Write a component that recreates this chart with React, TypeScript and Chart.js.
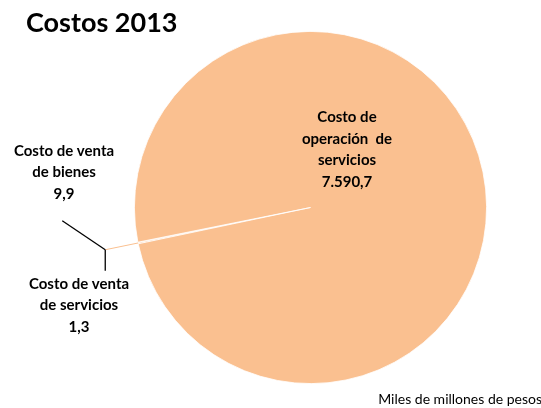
import React, { useEffect, useRef } from "react";
import { Chart, registerables } from "chart.js";

Chart.register(...registerables);

const chartTitle = "Costos 2013";
const categories = [
  "Costo de venta de bienes",
  "Costo de venta de servicios",
  "Costo de operación de servicios",
];
const values = [9.9, 1.3, 7590.7];
const labelLines = [
  ["Costo de venta", "de bienes"],
  ["Costo de venta", "de servicios"],
  ["Costo de", "operación  de", "servicios"],
];
const unitNote = "Miles de millones de pesos";

const sliceColor = "#FAC090";
const FONT = "Lato, 'Open Sans', sans-serif";

function fmt(v: number): string {
  const [i, d] = v.toFixed(1).split(".");
  return i.replace(/\B(?=(\d{3})+(?!\d))/g, ".") + "," + d;
}

// label block anchors (centre x, first baseline y)
const labelAnchors = [
  { x: 64, y: 155.5 },
  { x: 79, y: 288.5 },
  { x: 347, y: 122 },
];

const overlayPlugin = {
  id: "overlay",
  afterDatasetsDraw(chart: any) {
    const ctx = chart.ctx as CanvasRenderingContext2D;
    const meta = chart.getDatasetMeta(0);
    const a0 = meta.data[0] as any;
    const a1 = meta.data[1] as any;
    const cx = a0.x;
    const cy = a0.y;
    const r = a0.outerRadius;
    const th = (a0.startAngle + a1.endAngle) / 2;
    const ex = cx + Math.cos(th) * r * 1.19;
    const ey = cy + Math.sin(th) * r * 1.19;

    ctx.save();
    ctx.lineWidth = 1;
    ctx.strokeStyle = sliceColor;
    ctx.beginPath();
    ctx.moveTo(cx + Math.cos(th) * r, cy + Math.sin(th) * r);
    ctx.lineTo(ex, ey);
    ctx.stroke();

    ctx.strokeStyle = "#000";
    ctx.lineWidth = 1.3;
    ctx.beginPath();
    ctx.moveTo(ex, ey);
    ctx.lineTo(ex - 43, ey - 29);
    ctx.stroke();
    ctx.beginPath();
    ctx.moveTo(ex, ey);
    ctx.lineTo(ex, ey + 21);
    ctx.stroke();

    ctx.fillStyle = "#000";
    ctx.textAlign = "center";
    ctx.textBaseline = "alphabetic";
    ctx.font = `bold 15px ${FONT}`;
    const lh = 21.5;
    labelLines.forEach((lines, i) => {
      const a = labelAnchors[i];
      const all = [...lines, fmt(values[i])];
      all.forEach((t, k) => ctx.fillText(t, a.x, a.y + k * lh));
    });

    ctx.textAlign = "left";
    ctx.font = `bold 27px ${FONT}`;
    ctx.fillText(chartTitle, 26, 32);

    ctx.textAlign = "right";
    ctx.font = `14px ${FONT}`;
    ctx.fillText(unitNote, 542, 404);
    ctx.restore();
  },
};

export default function App() {
  const ref = useRef<HTMLCanvasElement | null>(null);
  useEffect(() => {
    if (!ref.current) return;
    const chart = new Chart(ref.current, {
      type: "pie",
      data: {
        labels: categories,
        datasets: [
          {
            data: values,
            backgroundColor: [sliceColor, sliceColor, sliceColor],
            borderColor: "#ffffff",
            borderWidth: 0.8,
          },
        ],
      },
      options: {
        responsive: false,
        animation: false,
        rotation: 258.1,
        layout: { padding: { left: 134, right: 54, top: 31, bottom: 24 } },
        plugins: {
          legend: { display: false },
          title: { display: false },
          tooltip: { enabled: false },
        },
      },
      plugins: [overlayPlugin],
    });
    return () => chart.destroy();
  }, []);
  return (
    <div style={{ position: "absolute", left: 0, top: 0, width: 541, height: 408, background: "#fff" }}>
      <canvas ref={ref} width={541} height={408} />
    </div>
  );
}
